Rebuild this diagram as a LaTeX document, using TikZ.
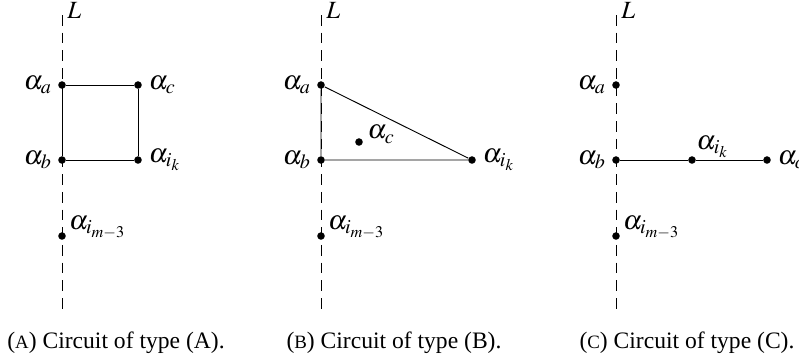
\documentclass[tikz,border=0pt]{standalone}
\usepackage{mathptmx}
\usepackage{fontspec}
\setmainfont{Liberation Serif}
\usepackage{tikz}
\usetikzlibrary{positioning}
\newcommand{\typesc}[1]{{\footnotesize #1}}

\begin{document}
\begin{tikzpicture}[x=0.424pt,y=-0.424pt,
  vtx/.style={circle,fill,inner sep=0pt,minimum size=3.2pt},
  lbl/.style={inner sep=0pt,font=\fontsize{11.5}{13}\selectfont},
  axis/.style={dashed,dash pattern=on 4.5pt off 3pt,line width=0.35pt},
  edge/.style={line width=0.4pt},
  captxt/.style={anchor=base,inner sep=0pt,font=\normalsize}]
  \useasboundingbox (0,0) rectangle (799,363);
  % (A)
  \coordinate (At) at (62,15);
  \coordinate (Ab) at (62,312);
  \draw[axis] (At) -- (Ab);
  \node[lbl,anchor=base west,font=\fontsize{10.5}{12}\selectfont] (AL) at (67,18) {$L$};
  \node[vtx] (Aa) at (62,85) {};
  \node[vtx] (Ac) at (138,85) {};
  \node[vtx] (Abb) at (62,160) {};
  \node[vtx] (Aik) at (138,160) {};
  \node[vtx] (Aim) at (62,236) {};
  \draw[edge] (Aa) -- (Ac) -- (Aik) -- (Abb) -- (Aa);
  \node[lbl,left=2.2pt of Aa] (Aal) {$\alpha_a$};
  \node[lbl,right=2.6pt of Ac] (Acl) {$\alpha_c$};
  \node[lbl,left=2.2pt of Abb] (Abl) {$\alpha_b$};
  \node[lbl,right=2.6pt of Aik] (Aikl) {$\alpha_{i_k}$};
  \node[lbl,above right=-2.5pt and 1.5pt of Aim] (Aiml) {$\alpha_{i_{m-3}}$};
  \node[captxt] (Acap) at (116,348) {(\typesc{A}) Circuit of type (A).};
  % (B)
  \coordinate (Bt) at (321,15);
  \coordinate (Bb) at (321,312);
  \draw[axis] (Bt) -- (Bb);
  \node[lbl,anchor=base west,font=\fontsize{10.5}{12}\selectfont] (BL) at (326,18) {$L$};
  \node[vtx] (Ba) at (321,85) {};
  \node[vtx] (Bc) at (359,142) {};
  \node[vtx] (Bbb) at (321,160) {};
  \node[vtx] (Bik) at (472,160) {};
  \node[vtx] (Bim) at (321,236) {};
  \draw[edge] (Ba) -- (Bik) -- (Bbb) -- (Ba);
  \node[lbl,left=2.2pt of Ba] (Bal) {$\alpha_a$};
  \node[lbl,above right=-2pt and 2.2pt of Bc] (Bcl) {$\alpha_c$};
  \node[lbl,left=2.2pt of Bbb] (Bbl) {$\alpha_b$};
  \node[lbl,right=2.6pt of Bik] (Bikl) {$\alpha_{i_k}$};
  \node[lbl,above right=-2.5pt and 1.5pt of Bim] (Biml) {$\alpha_{i_{m-3}}$};
  \node[captxt] (Bcap) at (394,348) {(\typesc{B}) Circuit of type (B).};
  % (C)
  \coordinate (Ct) at (616,15);
  \coordinate (Cb) at (616,312);
  \draw[axis] (Ct) -- (Cb);
  \node[lbl,anchor=base west,font=\fontsize{10.5}{12}\selectfont] (CL) at (621,18) {$L$};
  \node[vtx] (Ca) at (616,85) {};
  \node[vtx] (Cbb) at (616,160) {};
  \node[vtx] (Cik) at (692,160) {};
  \node[vtx] (Cc) at (767,160) {};
  \node[vtx] (Cim) at (616,236) {};
  \draw[edge] (Cbb) -- (Cik) -- (Cc);
  \node[lbl,left=2.2pt of Ca] (Cal) {$\alpha_a$};
  \node[lbl,left=2.2pt of Cbb] (Cbl) {$\alpha_b$};
  \node[lbl,above right=-0.5pt and 0.5pt of Cik] (Cikl) {$\alpha_{i_k}$};
  \node[lbl,right=2.6pt of Cc] (Ccl) {$\alpha_c$};
  \node[lbl,above right=-2.5pt and 1.5pt of Cim] (Ciml) {$\alpha_{i_{m-3}}$};
  \node[captxt] (Ccap) at (687,348) {(\typesc{C}) Circuit of type (C).};
\end{tikzpicture}
\end{document}
